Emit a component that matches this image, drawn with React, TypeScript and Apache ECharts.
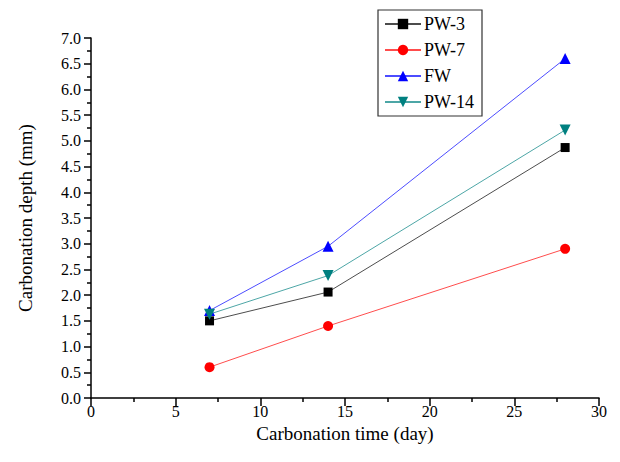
import React, { useEffect, useRef } from "react";
import * as echarts from "echarts";

const days = [7, 14, 28];
const pw3 = [1.5, 2.06, 4.87];
const pw7 = [0.6, 1.4, 2.9];
const fw = [1.7, 2.95, 6.6];
const pw14 = [1.63, 2.38, 5.21];

const xTicks = { min: 0, max: 30, interval: 5 };
const yTicks = { min: 0, max: 7, interval: 0.5 };

const FONT = "'Liberation Serif', 'Times New Roman', serif";

export default function App() {
  const ref = useRef<HTMLDivElement>(null);
  useEffect(() => {
    if (!ref.current) return;
    const chart = echarts.init(ref.current, undefined, { renderer: "svg" });
    const mk = (
      name: string,
      vals: number[],
      color: string,
      symbol: string,
      size: number,
      rotate = 0
    ) => ({
      name,
      type: "line",
      data: days.map((d, i) => [d, vals[i]]),
      symbol,
      symbolSize: size,
      symbolRotate: rotate,
      itemStyle: { color },
      lineStyle: { color, width: 1, opacity: 0.7 },
      z: 3,
    });
    chart.setOption({
      animation: false,
      backgroundColor: "#fff",
      grid: { left: 78, right: 13, top: 30, bottom: 56 },
      legend: {
        orient: "vertical",
        left: 370,
        top: 2,
        padding: [5, 8, 5, 6],
        itemGap: 8,
        itemWidth: 36,
        itemHeight: 13,
        borderColor: "#333",
        borderWidth: 1.2,
        backgroundColor: "#fff",
        textStyle: { fontFamily: FONT, fontSize: 18, color: "#000", padding: [0, 0, 0, -2] },
        data: ["PW-3", "PW-7", "FW", "PW-14"],
      },
      xAxis: {
        type: "value",
        ...xTicks,
        name: "Carbonation time (day)",
        nameLocation: "middle",
        nameGap: 24,
        nameTextStyle: { fontFamily: FONT, fontSize: 19, color: "#000" },
        axisLine: { lineStyle: { color: "#000", width: 1.5 } },
        axisTick: { length: 8, lineStyle: { color: "#000", width: 1.5 } },
        minorTick: { show: true, splitNumber: 2, length: 4, lineStyle: { color: "#000", width: 1.5 } },
        axisLabel: { fontFamily: FONT, fontSize: 16, color: "#000", margin: 5 },
        splitLine: { show: false },
      },
      yAxis: {
        type: "value",
        ...yTicks,
        name: "Carbonation depth (mm)",
        nameLocation: "middle",
        nameGap: 56,
        nameTextStyle: { fontFamily: FONT, fontSize: 19, color: "#000" },
        axisLine: { show: true, lineStyle: { color: "#000", width: 1.5 } },
        axisTick: { show: true, length: 7, lineStyle: { color: "#000", width: 1.5 } },
        minorTick: { show: true, splitNumber: 2, length: 4, lineStyle: { color: "#000", width: 1.5 } },
        axisLabel: {
          fontFamily: FONT,
          fontSize: 16,
          color: "#000",
          margin: 10,
          formatter: (v: number) => v.toFixed(1),
        },
        splitLine: { show: false },
      },
      series: [
        mk("PW-3", pw3, "#000000", "rect", 9),
        mk("PW-7", pw7, "#ff0000", "circle", 10),
        mk("FW", fw, "#0000ff", "triangle", 11),
        mk("PW-14", pw14, "#008080", "triangle", 11, 180),
      ],
    });
    return () => chart.dispose();
  }, []);
  return <div ref={ref} style={{ width: 604, height: 446 }} />;
}
